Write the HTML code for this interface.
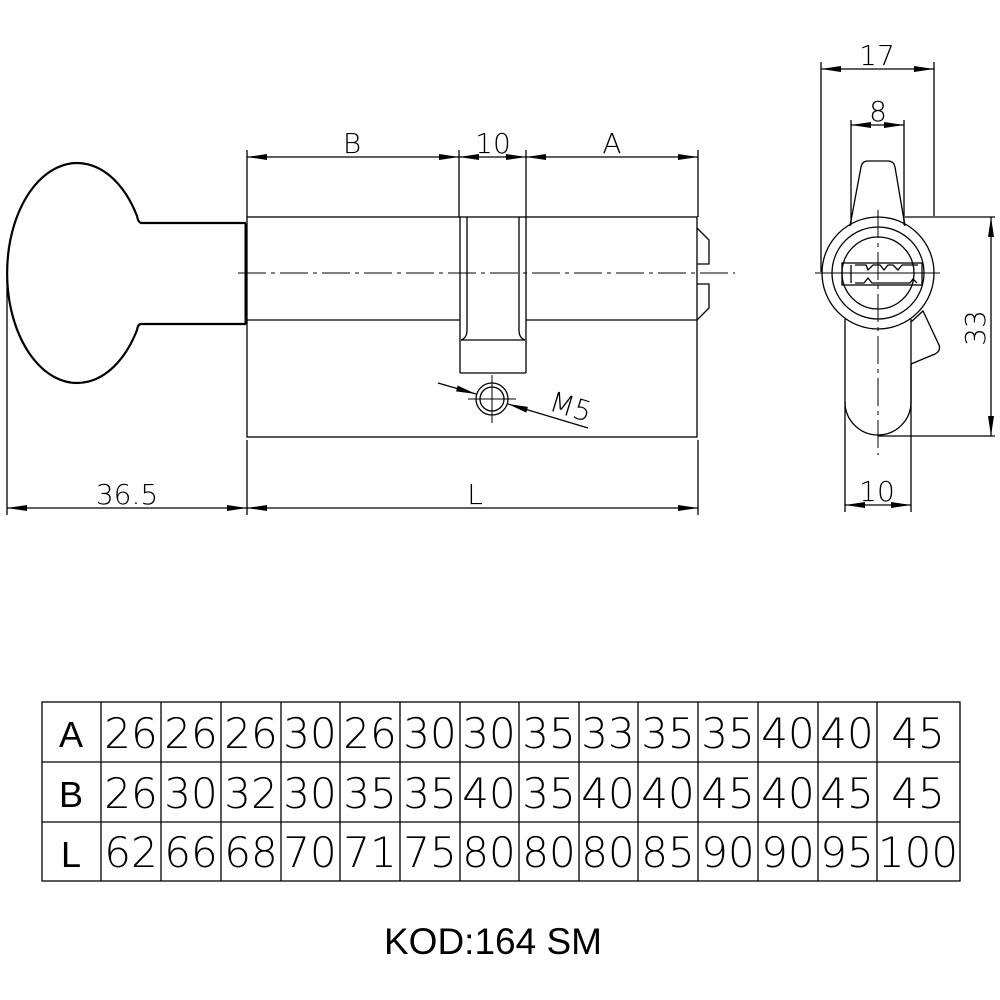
<!DOCTYPE html>
<html><head><meta charset="utf-8"><style>
html,body{margin:0;padding:0;background:#fff;}
svg{display:block;}
.t{font-family:"DejaVu Sans","Liberation Sans",sans-serif;font-weight:200;}
</style></head><body>
<svg width="1000" height="1000" viewBox="0 0 1000 1000" xmlns="http://www.w3.org/2000/svg">
<defs>
<marker id="ar" viewBox="0 0 20 6" refX="20" refY="3" markerWidth="20" markerHeight="6" markerUnits="userSpaceOnUse" orient="auto-start-reverse">
<path d="M0,0 L20,3 L0,6 Z" fill="#000"/>
</marker>
</defs>
<g fill="none" stroke="#000" stroke-width="1.3">
<path d="M246,223 H141 Q138,222 137,216 A70,110 0 1 0 137,330 Q138,324 141,324 H246" stroke-width="2.2"/>
<line x1="246" y1="223" x2="246" y2="324" stroke-width="3"/>
<rect x="247" y="217" width="450" height="220"/>
<line x1="247" y1="320" x2="460" y2="320"/>
<line x1="526" y1="320" x2="697" y2="320"/>
<line x1="460" y1="217" x2="460" y2="373"/>
<line x1="526" y1="217" x2="526" y2="373"/>
<line x1="460" y1="373" x2="526" y2="373"/>
<path d="M467,217 V330 Q467,338 461,340 H525 Q519,338 519,330 V217"/>
<path d="M697,228 L709,240 V264 H697"/>
<path d="M697,284 H709 V308 L697,320"/>
<line x1="238" y1="273" x2="735" y2="273" stroke-width="1" stroke-dasharray="28,5,4,5"/>
<circle cx="492" cy="399" r="16"/>
<circle cx="492" cy="399" r="12"/>
<line x1="468" y1="399" x2="516" y2="399" stroke-width="1"/>
<line x1="492" y1="375" x2="492" y2="423" stroke-width="1"/>
<line x1="438" y1="383" x2="476" y2="394" marker-end="url(#ar)"/>
<line x1="588" y1="428" x2="508" y2="404" marker-end="url(#ar)"/>
<line x1="247" y1="150" x2="247" y2="217"/>
<line x1="459" y1="150" x2="459" y2="217"/>
<line x1="526" y1="150" x2="526" y2="217"/>
<line x1="698" y1="150" x2="698" y2="217"/>
<line x1="247" y1="157" x2="459" y2="157" marker-start="url(#ar)" marker-end="url(#ar)"/>
<line x1="459" y1="157" x2="526" y2="157" marker-start="url(#ar)" marker-end="url(#ar)"/>
<line x1="526" y1="157" x2="698" y2="157" marker-start="url(#ar)" marker-end="url(#ar)"/>
<line x1="7" y1="280" x2="7" y2="515"/>
<line x1="247" y1="440" x2="247" y2="515"/>
<line x1="698" y1="440" x2="698" y2="515"/>
<line x1="7" y1="508" x2="247" y2="508" marker-start="url(#ar)" marker-end="url(#ar)"/>
<line x1="247" y1="508" x2="698" y2="508" marker-start="url(#ar)" marker-end="url(#ar)"/>
<path d="M850,226 L861,167 Q862,161 868,161 H888 Q894,161 895,167 L905,226"/>
<circle cx="878" cy="273" r="56"/>
<circle cx="878" cy="273" r="46"/>
<circle cx="878" cy="273" r="36"/>
<path d="M845,319 V402 A33,33 0 0 0 911,402 V319"/>
<path d="M911,322 L923,311 L939,345 Q941,351 935,354 L911,364"/>
<rect x="842" y="263" width="80" height="22"/>
<path d="M851,265 V283 M855,265 H866 L868,270 L873,265 H880 L884,270 L888,265 H893 L898,270 L902,265 H918 M855,283 H864 L868,278 L872,283 H910 L913,279 L917,283"/>
<line x1="815" y1="273" x2="940" y2="273" stroke-width="1"/>
<line x1="878" y1="210" x2="878" y2="455" stroke-width="1" stroke-dasharray="28,5,4,5"/>
<line x1="821" y1="62" x2="821" y2="272"/>
<line x1="934" y1="62" x2="934" y2="216"/>
<line x1="821" y1="69" x2="934" y2="69" marker-start="url(#ar)" marker-end="url(#ar)"/>
<line x1="851" y1="120" x2="851" y2="225"/>
<line x1="904" y1="120" x2="904" y2="225"/>
<line x1="851" y1="125" x2="904" y2="125" marker-start="url(#ar)" marker-end="url(#ar)"/>
<line x1="905" y1="217" x2="995" y2="217"/>
<line x1="878" y1="436" x2="995" y2="436"/>
<line x1="991" y1="217" x2="991" y2="436" marker-start="url(#ar)" marker-end="url(#ar)"/>
<line x1="845" y1="402" x2="845" y2="512"/>
<line x1="911" y1="364" x2="911" y2="512"/>
<line x1="845" y1="505" x2="911" y2="505" marker-start="url(#ar)" marker-end="url(#ar)"/>
<rect x="42" y="702" width="918" height="179"/>
<line x1="42" y1="762" x2="960" y2="762"/>
<line x1="42" y1="822" x2="960" y2="822"/>
<line x1="101" y1="702" x2="101" y2="881"/>
<line x1="161" y1="702" x2="161" y2="881"/>
<line x1="221" y1="702" x2="221" y2="881"/>
<line x1="281" y1="702" x2="281" y2="881"/>
<line x1="340" y1="702" x2="340" y2="881"/>
<line x1="400" y1="702" x2="400" y2="881"/>
<line x1="460" y1="702" x2="460" y2="881"/>
<line x1="519" y1="702" x2="519" y2="881"/>
<line x1="579" y1="702" x2="579" y2="881"/>
<line x1="638" y1="702" x2="638" y2="881"/>
<line x1="698" y1="702" x2="698" y2="881"/>
<line x1="758" y1="702" x2="758" y2="881"/>
<line x1="818" y1="702" x2="818" y2="881"/>
<line x1="877" y1="702" x2="877" y2="881"/>
</g>
<g class="t" font-size="28" fill="#000" text-anchor="middle">
<text x="352" y="153">B</text>
<text x="493" y="153">10</text>
<text x="612" y="153">A</text>
<text x="127" y="504">36.5</text>
<text x="475" y="504">L</text>
<text x="877" y="65">17</text>
<text x="878" y="121">8</text>
<text x="877" y="501">10</text>
<text x="0" y="0" transform="translate(985,328) rotate(-90)">33</text>
<text x="0" y="0" transform="translate(568,416) rotate(17)">M5</text>
</g>
<g class="t" font-size="42" fill="#000" text-anchor="middle">
<g transform="translate(0,748)">
<text x="131">26</text><text x="191">26</text><text x="251">26</text><text x="310">30</text><text x="370">26</text><text x="430">30</text><text x="489">30</text><text x="549">35</text><text x="608">33</text><text x="668">35</text><text x="728">35</text><text x="788">40</text><text x="847">40</text><text x="918">45</text>
</g>
<g transform="translate(0,808)">
<text x="131">26</text><text x="191">30</text><text x="251">32</text><text x="310">30</text><text x="370">35</text><text x="430">35</text><text x="489">40</text><text x="549">35</text><text x="608">40</text><text x="668">40</text><text x="728">45</text><text x="788">40</text><text x="847">45</text><text x="918">45</text>
</g>
<g transform="translate(0,867)">
<text x="131">62</text><text x="191">66</text><text x="251">68</text><text x="310">70</text><text x="370">71</text><text x="430">75</text><text x="489">80</text><text x="549">80</text><text x="608">80</text><text x="668">85</text><text x="728">90</text><text x="788">90</text><text x="847">95</text><text x="918">100</text>
</g>
</g>
<g font-family="Liberation Sans, sans-serif" font-size="36" fill="#000" text-anchor="middle">
<text x="71" y="747">A</text>
<text x="71" y="807">B</text>
<text x="71" y="867">L</text>
</g>
<text x="493" y="954" font-family="Liberation Sans, sans-serif" font-size="37" text-anchor="middle" fill="#000">KOD:164 SM</text>
</svg>
</body></html>
